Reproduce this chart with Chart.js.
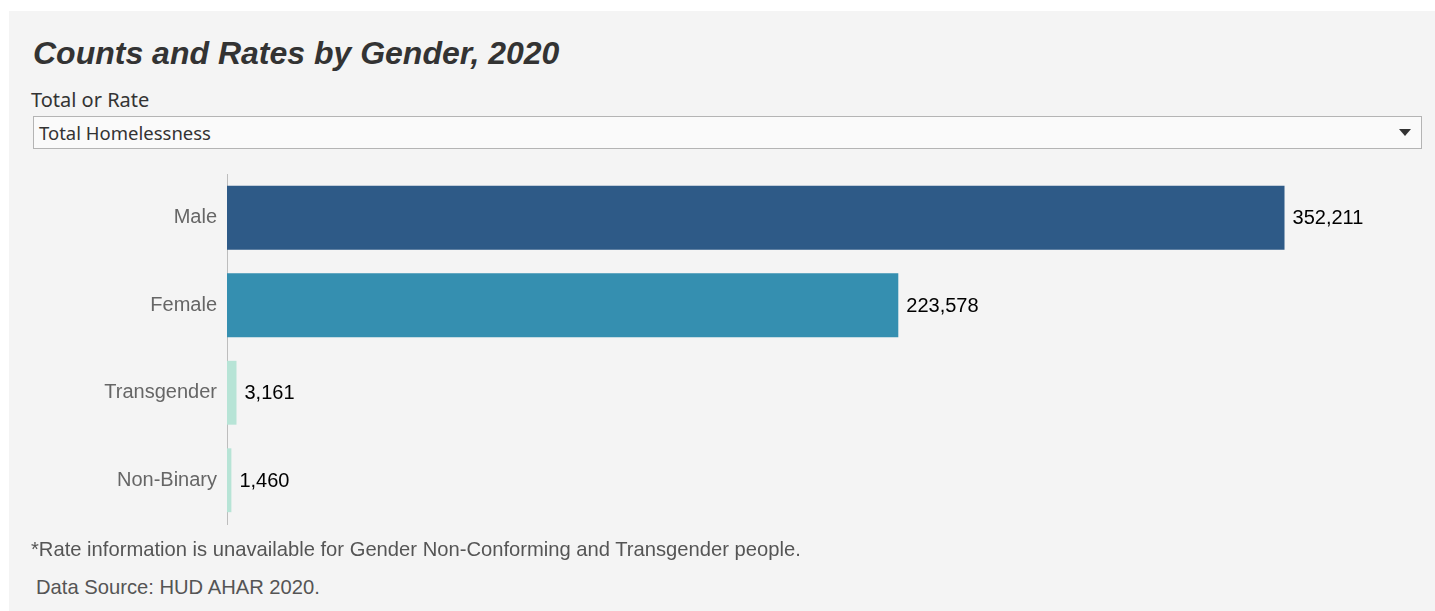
<!DOCTYPE html>
<html>
<head>
<meta charset="utf-8">
<script src="https://cdn.jsdelivr.net/npm/chart.js@4"></script>
<style>
  html, body { margin: 0; padding: 0; background: #fff; width: 1435px; height: 611px; overflow: hidden; }
  #panel { position: absolute; left: 9px; top: 11px; width: 1426px; height: 600px; background: #f4f4f4; }
  #title { position: absolute; left: 24px; top: 24px; font: italic bold 32px "Liberation Sans", Arial, sans-serif; color: #333; }
  #pick-label { position: absolute; left: 22px; top: 75px; font: 20px "Noto Sans", sans-serif; color: #333; }
  #pick { position: absolute; left: 24px; top: 105px; width: 1387px; height: 31px; background: #fafafa; border: 1px solid #b4b4b4; }
  #pick span { position: absolute; left: 5px; top: 3px; font: 18.5px "Noto Sans", sans-serif; color: #333; }
  #pick i { position: absolute; right: 10px; top: 12px; width: 0; height: 0; border-left: 6px solid transparent; border-right: 6px solid transparent; border-top: 7px solid #333; }
  #chart-box { position: absolute; left: 0px; top: 141px; width: 1426px; height: 394px; }
  .note { position: absolute; font: 20.2px "Liberation Sans", Arial, sans-serif; color: #555; }
</style>
</head>
<body>
<div id="panel">
  <div id="title">Counts and Rates by Gender, 2020</div>
  <div id="pick-label">Total or Rate</div>
  <div id="pick"><span>Total Homelessness</span><i></i></div>
  <div id="chart-box"><canvas id="bars"></canvas></div>
  <div class="note" style="left:22px; top:527px;">*Rate information is unavailable for Gender Non-Conforming and Transgender people.</div>
  <div class="note" style="left:27px; top:565px;">Data Source: HUD AHAR 2020.</div>
</div>
<script>
// data
var genders = ['Male', 'Female', 'Transgender', 'Non-Binary'];
var totals = [352211, 223578, 3161, 1460];
var barColors = ['#2e5a87', '#358fb0', '#b7e4d6', '#b7e4d6'];

// value text at the end of each bar
var valueLabels = {
    id: 'valueLabels',
    afterDatasetsDraw: function(chart) {
        var ctx = chart.ctx;
        var meta = chart.getDatasetMeta(0);
        ctx.save();
        ctx.font = '20px "Liberation Sans", Arial, sans-serif';
        ctx.fillStyle = '#000';
        ctx.textAlign = 'left';
        ctx.textBaseline = 'middle';
        meta.data.forEach(function(bar, i) {
            ctx.fillText(totals[i].toLocaleString('en-US'), bar.x + 8, bar.y + 1);
        });
        ctx.restore();
    }
};

var ctx = document.getElementById('bars').getContext('2d');
new Chart(ctx, {
    type: 'bar',
    data: {
        labels: genders,
        datasets: [{
            data: totals,
            backgroundColor: barColors,
            barPercentage: 0.73,
            categoryPercentage: 1.0
        }]
    },
    options: {
        indexAxis: 'y',
        responsive: true,
        maintainAspectRatio: false,
        animation: false,
        layout: { padding: { right: 7, top: 0, bottom: 0, left: 0 } },
        plugins: {
            legend: { display: false },
            tooltip: { enabled: false }
        },
        scales: {
            x: {
                display: false,
                min: 0,
                max: 400000
            },
            y: {
                afterFit: function(scale) { scale.width = 218; },
                grid: { display: false, drawTicks: false },
                border: { display: true, color: '#bdbdbd', dash: [2, 3], width: 1 },
                ticks: {
                    color: '#666',
                    padding: 10,
                    font: { family: '"Liberation Sans", Arial, sans-serif', size: 20 }
                }
            }
        }
    },
    plugins: [valueLabels]
});
</script>
</body>
</html>
